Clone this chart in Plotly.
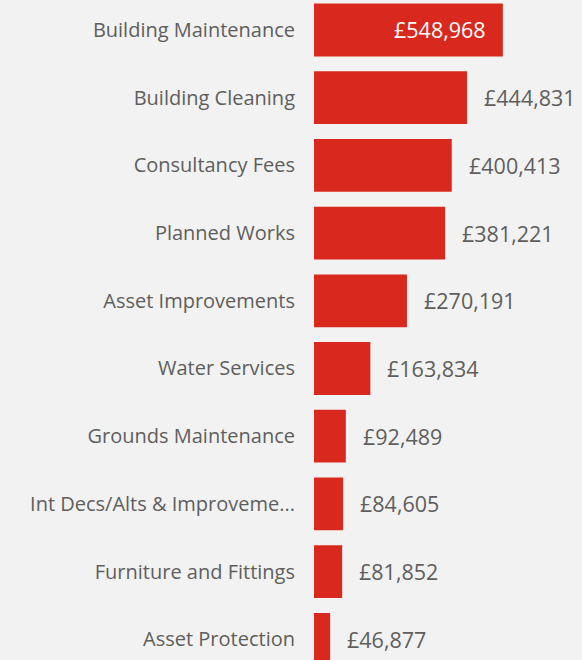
import plotly.graph_objects as go

categories = ["Building Maintenance", "Building Cleaning", "Consultancy Fees", "Planned Works",
              "Asset Improvements", "Water Services", "Grounds Maintenance",
              "Int Decs/Alts & Improveme...", "Furniture and Fittings", "Asset Protection"]
values = [548968, 444831, 400413, 381221, 270191, 163834, 92489, 84605, 81852, 46877]
labels = ["£{:,}".format(v) for v in values]
inside = [True] + [False] * 9

BAR = "#D9281E"
BG = "#F2F2F2"
TXT = "#605E5C"
FONT = "Open Sans, Noto Sans, sans-serif"

fig = go.Figure(go.Bar(
    x=values, y=categories, orientation="h",
    marker=dict(color=BAR, line=dict(width=0)),
    width=0.78, hoverinfo="skip",
))

for c, v, lab, ins in zip(categories, values, labels, inside):
    fig.add_annotation(
        x=v, y=c, text=lab, showarrow=False,
        xanchor="right" if ins else "left",
        xshift=-15 if ins else 15,
        font=dict(family=FONT, size=21.5, color="white" if ins else TXT),
    )

fig.update_layout(
    width=582, height=660,
    margin=dict(l=314, r=0, t=0, b=0),
    paper_bgcolor=BG, plot_bgcolor=BG,
    showlegend=False,
    xaxis=dict(range=[0, 779000], visible=False, showgrid=False, zeroline=False),
    yaxis=dict(categoryorder="array", categoryarray=categories,
               range=[9.306, -0.443], showgrid=False, zeroline=False,
               ticks="", ticklabelstandoff=18,
               tickfont=dict(family=FONT, size=20, color=TXT)),
)

fig.write_html("out.html", config={"displayModeBar": False},
               post_script="document.body.style.margin='0';document.body.style.background='#F2F2F2';document.body.style.overflow='hidden';")
